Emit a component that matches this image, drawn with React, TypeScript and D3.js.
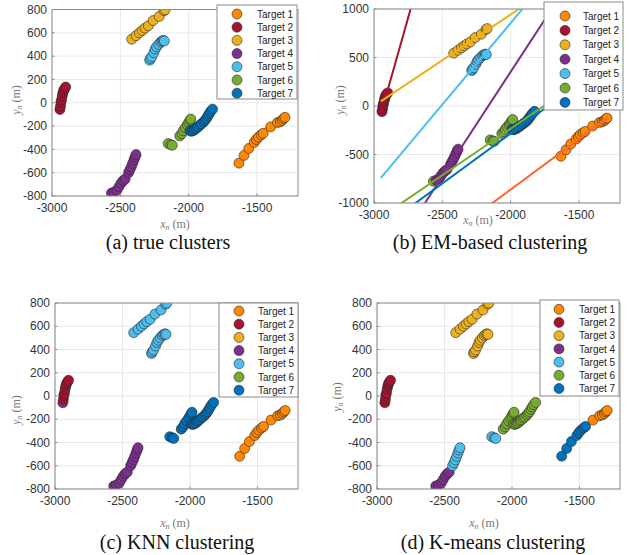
import React from "react";
import * as d3 from "d3";

// legend names + matlab-ish colors
const targetNames = ["Target 1", "Target 2", "Target 3", "Target 4", "Target 5", "Target 6", "Target 7"];
const targetColors = ["#FF8800", "#A2142F", "#EDB120", "#7E2F8E", "#4DBEEE", "#77AC30", "#0072BD"];
const lineColors = ["#FF6633", "#A2142F", "#EDB120", "#7E2F8E", "#4DBEEE", "#77AC30", "#0072BD"];

// measured positions, grouped by true target
const target1 = [[-1632, -518], [-1595, -452], [-1560, -392], [-1520, -340], [-1505, -315], [-1490, -295], [-1470, -275], [-1455, -262], [-1400, -207], [-1350, -170], [-1330, -163], [-1315, -150], [-1305, -135], [-1295, -125]];
const target2 = [[-2942, -58], [-2938, -30], [-2935, 5], [-2930, 25], [-2925, 60], [-2920, 85], [-2915, 105], [-2908, 120], [-2900, 135]];
const target3 = [[-2417, 545], [-2385, 575], [-2360, 600], [-2340, 620], [-2320, 640], [-2295, 660], [-2260, 705], [-2215, 740], [-2180, 790], [-2172, 798]];
const target4 = [[-2565, -775], [-2545, -765], [-2525, -750], [-2510, -720], [-2495, -690], [-2480, -670], [-2465, -655], [-2440, -600], [-2430, -575], [-2420, -550], [-2410, -520], [-2400, -490], [-2392, -465], [-2385, -445]];
const target5 = [[-2285, 365], [-2280, 380], [-2270, 395], [-2255, 430], [-2245, 460], [-2235, 480], [-2220, 500], [-2205, 520], [-2195, 530], [-2185, 535], [-2178, 530]];
const target6 = [[-2150, -350], [-2130, -360], [-2120, -365], [-2065, -285], [-2050, -265], [-2040, -240], [-2025, -215], [-2010, -190], [-2000, -170], [-1990, -150], [-1985, -140]];
const target7 = [[-1990, -240], [-1980, -245], [-1970, -240], [-1960, -235], [-1950, -225], [-1940, -215], [-1930, -205], [-1915, -190], [-1905, -180], [-1890, -165], [-1880, -150], [-1870, -135], [-1860, -115], [-1850, -95], [-1840, -75], [-1825, -55]];
const targets = [target1, target2, target3, target4, target5, target6, target7];

// cluster labels given by each method, same order as the points above
const trueLabels = [
  [1, 1, 1, 1, 1, 1, 1, 1, 1, 1, 1, 1, 1, 1],
  [2, 2, 2, 2, 2, 2, 2, 2, 2],
  [3, 3, 3, 3, 3, 3, 3, 3, 3, 3],
  [4, 4, 4, 4, 4, 4, 4, 4, 4, 4, 4, 4, 4, 4],
  [5, 5, 5, 5, 5, 5, 5, 5, 5, 5, 5],
  [6, 6, 6, 6, 6, 6, 6, 6, 6, 6, 6],
  [7, 7, 7, 7, 7, 7, 7, 7, 7, 7, 7, 7, 7, 7, 7, 7],
];
const emLabels = [
  [1, 1, 1, 1, 1, 1, 1, 1, 1, 1, 1, 1, 1, 1],
  [2, 2, 2, 2, 2, 2, 2, 2, 2],
  [3, 3, 3, 3, 3, 3, 3, 3, 3, 3],
  [6, 4, 4, 4, 4, 4, 4, 4, 4, 4, 4, 4, 4, 4],
  [5, 5, 5, 5, 5, 5, 5, 5, 5, 5, 5],
  [6, 6, 6, 6, 6, 6, 6, 6, 6, 6, 6],
  [7, 7, 7, 7, 7, 7, 7, 7, 7, 7, 7, 7, 7, 7, 7, 7],
];
const knnLabels = [
  [1, 1, 1, 1, 1, 1, 1, 1, 1, 1, 1, 1, 1, 1],
  [4, 2, 2, 2, 2, 2, 2, 2, 2],
  [5, 5, 5, 5, 5, 5, 5, 5, 5, 5],
  [4, 4, 4, 4, 4, 4, 4, 4, 4, 4, 4, 4, 4, 4],
  [5, 5, 5, 5, 5, 5, 5, 5, 5, 5, 5],
  [7, 7, 7, 7, 7, 7, 7, 7, 7, 7, 7],
  [7, 7, 7, 7, 7, 7, 7, 7, 7, 7, 7, 7, 7, 7, 7, 7],
];
const kmeansLabels = [
  [7, 7, 7, 7, 7, 7, 7, 7, 1, 1, 1, 1, 1, 1],
  [2, 2, 2, 2, 2, 2, 2, 2, 2],
  [3, 3, 3, 3, 3, 3, 3, 3, 3, 3],
  [4, 4, 4, 4, 4, 4, 4, 5, 5, 5, 5, 5, 5, 5],
  [3, 3, 3, 3, 3, 3, 3, 3, 3, 3, 3],
  [5, 5, 5, 6, 6, 6, 6, 6, 6, 6, 6],
  [6, 6, 6, 6, 6, 6, 6, 6, 6, 6, 6, 6, 6, 6, 6, 6],
];

// EM fitted lines, [x1, y1, x2, y2] in data units
const emLines = [
  [-2950, -1849, -1290, -122],
  [-2950, -85, -1290, 8180],
  [-2950, 47, -1290, 1612],
  [-2950, -1697, -1290, 1884],
  [-2950, -741, -1290, 2048],
  [-2950, -1146, -1290, 448],
  [-2950, -1262, -1290, 448],
];

const xTicks = [-3000, -2500, -2000, -1500];
const yTicksSmall = [-800, -600, -400, -200, 0, 200, 400, 600, 800];
const yTicksBig = [-1000, -500, 0, 500, 1000];

const panels = [
  {
    id: "a", left: 52, top: 9.5, right: 298, bottom: 196, yDomain: [-800, 800], yTicks: yTicksSmall,
    labels: trueLabels, lines: null,
    legend: { x: 217, y: 5, w: 80, h: 94, first: 14, row: 13.2, mx: 237, tx: 257 },
    caption: "(a) true clusters", capX: 168, capY: 249,
    xLab: [175, 228], yLab: [20, 100],
  },
  {
    id: "b", left: 374, top: 9, right: 620, bottom: 203, yDomain: [-1000, 1000], yTicks: yTicksBig,
    labels: emLabels, lines: emLines,
    legend: { x: 544, y: 2, w: 79, h: 108, first: 16, row: 14.4, mx: 565, tx: 583 },
    caption: "(b) EM-based clustering", capX: 490, capY: 249,
    xLab: [478, 224], yLab: [344, 100],
  },
  {
    id: "c", left: 55, top: 303, right: 298, bottom: 489, yDomain: [-800, 800], yTicks: yTicksSmall,
    labels: knnLabels, lines: null,
    legend: { x: 219, y: 303, w: 79, h: 94, first: 311, row: 13.2, mx: 239, tx: 258 },
    caption: "(c) KNN clustering", capX: 177, capY: 549,
    xLab: [175, 527], yLab: [20, 410],
  },
  {
    id: "d", left: 377, top: 303, right: 620, bottom: 489, yDomain: [-800, 800], yTicks: yTicksSmall,
    labels: kmeansLabels, lines: null,
    legend: { x: 540, y: 300, w: 79, h: 96, first: 309.3, row: 13.2, mx: 559, tx: 579 },
    caption: "(d) K-means clustering", capX: 493, capY: 549,
    xLab: [484, 527], yLab: [341, 397],
  },
];

const sansFont = "'Liberation Sans', Arial, sans-serif";
const serifFont = "'Liberation Serif', 'Times New Roman', serif";

function Panel({ p }: { p: any }) {
  const x = d3.scaleLinear().domain([-3000, -1200]).range([p.left, p.right]);
  const y = d3.scaleLinear().domain(p.yDomain).range([p.bottom, p.top]);
  const clipId = "clip-" + p.id;
  const pts: { x: number; y: number; k: number }[] = [];
  targets.forEach((group, gi) => {
    group.forEach((d, di) => pts.push({ x: d[0], y: d[1], k: p.labels[gi][di] }));
  });
  const lg = p.legend;

  return (
    <g>
      <defs>
        <clipPath id={clipId}>
          <rect x={p.left} y={p.top} width={p.right - p.left} height={p.bottom - p.top} />
        </clipPath>
      </defs>
      <rect x={p.left} y={p.top} width={p.right - p.left} height={p.bottom - p.top} fill="#fff" />
      {/* grid */}
      {xTicks.map((t) => (
        <line key={"gx" + t} x1={x(t)} x2={x(t)} y1={p.top} y2={p.bottom} stroke="#e3e3e3" strokeWidth={0.8} />
      ))}
      {p.yTicks.map((t: number) => (
        <line key={"gy" + t} x1={p.left} x2={p.right} y1={y(t)} y2={y(t)} stroke="#e3e3e3" strokeWidth={0.8} />
      ))}
      <g clipPath={`url(#${clipId})`}>
        {pts.map((d, i) => (
          <circle key={i} cx={x(d.x)} cy={y(d.y)} r={5} fill={targetColors[d.k - 1]} stroke="#2a2a2a" strokeWidth={0.6} />
        ))}
        {p.lines &&
          p.lines.map((l: number[], i: number) => (
            <line key={"l" + i} x1={x(l[0])} y1={y(l[1])} x2={x(l[2])} y2={y(l[3])} stroke={lineColors[i]} strokeWidth={2} />
          ))}
      </g>
      {/* frame */}
      <rect x={p.left} y={p.top} width={p.right - p.left} height={p.bottom - p.top} fill="none" stroke="#8a8a8a" strokeWidth={1} />
      {xTicks.map((t) => (
        <g key={"tx" + t}>
          <line x1={x(t)} x2={x(t)} y1={p.bottom} y2={p.bottom - 2.5} stroke="#8a8a8a" />
          <text x={x(t)} y={p.bottom + 16} textAnchor="middle" fontFamily={sansFont} fontSize={12} fill="#333">
            {t}
          </text>
        </g>
      ))}
      {p.yTicks.map((t: number) => (
        <g key={"ty" + t}>
          <line x1={p.left} x2={p.left + 2.5} y1={y(t)} y2={y(t)} stroke="#8a8a8a" />
          <text x={p.left - 5} y={y(t) + 4.2} textAnchor="end" fontFamily={sansFont} fontSize={12} fill="#333">
            {t}
          </text>
        </g>
      ))}
      {/* axis labels */}
      <text x={p.xLab[0]} y={p.xLab[1]} textAnchor="middle" fontFamily={serifFont} fontSize={12} fill="#7a7a7a">
        <tspan fontStyle="italic">x</tspan>
        <tspan fontStyle="italic" fontSize={8} dy={2}>n</tspan>
        <tspan dy={-2}> (m)</tspan>
      </text>
      <text
        transform={`translate(${p.yLab[0]},${p.yLab[1]}) rotate(-90)`}
        textAnchor="middle"
        fontFamily={serifFont}
        fontSize={12}
        fill="#7a7a7a"
      >
        <tspan fontStyle="italic">y</tspan>
        <tspan fontStyle="italic" fontSize={8} dy={2}>n</tspan>
        <tspan dy={-2}> (m)</tspan>
      </text>
      {/* legend */}
      <rect x={lg.x} y={lg.y} width={lg.w} height={lg.h} fill="#fff" stroke="#8a8a8a" strokeWidth={1} />
      {targetNames.map((name, i) => (
        <g key={name}>
          <circle cx={lg.mx} cy={lg.first + i * lg.row} r={5} fill={targetColors[i]} stroke="#2a2a2a" strokeWidth={0.6} />
          <text x={lg.tx} y={lg.first + i * lg.row + 3.6} fontFamily={sansFont} fontSize={10} fill="#222">
            {name}
          </text>
        </g>
      ))}
      <text x={p.capX} y={p.capY} textAnchor="middle" fontFamily={serifFont} fontSize={20} fill="#111">
        {p.caption}
      </text>
    </g>
  );
}

export default function App() {
  return (
    <svg
      width={632}
      height={555}
      style={{ position: "absolute", left: 0, top: 0, background: "#fff" }}
    >
      <rect width={632} height={555} fill="#fff" />
      {panels.map((p) => (
        <Panel key={p.id} p={p} />
      ))}
    </svg>
  );
}
